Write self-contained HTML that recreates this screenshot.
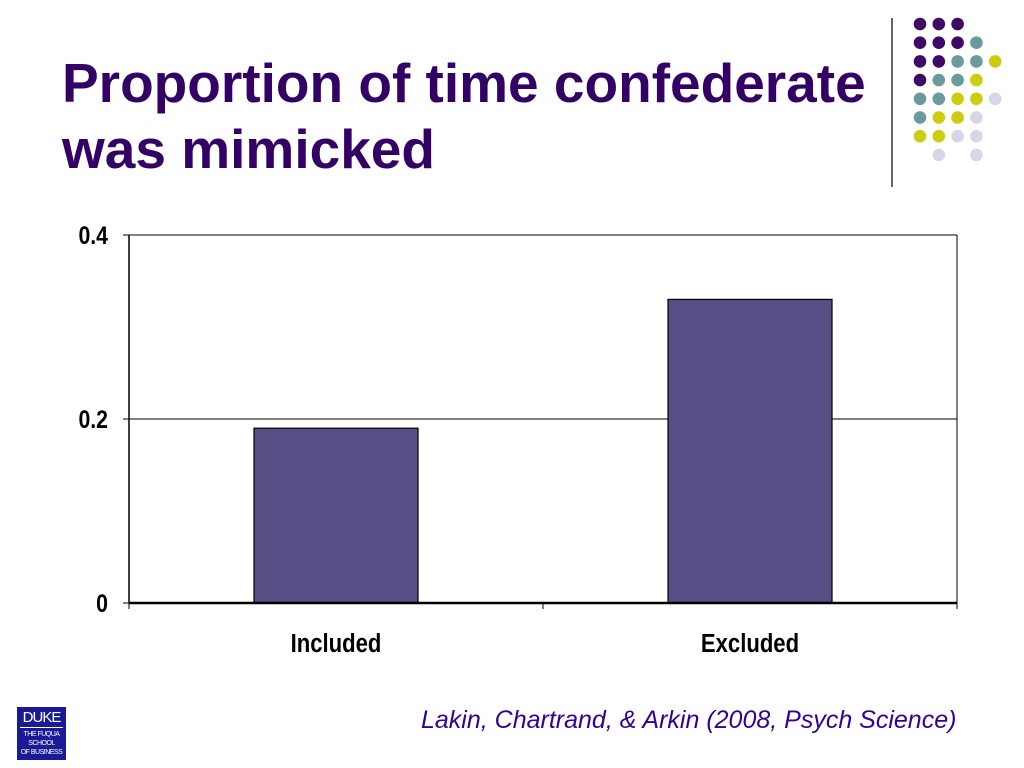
<!DOCTYPE html>
<html><head><meta charset="utf-8"><style>
body{margin:0;width:1024px;height:768px;background:#fff;position:relative;overflow:hidden;font-family:"Liberation Sans",sans-serif}
.title{position:absolute;left:62px;top:50px;font-size:55px;font-weight:bold;color:#330066;line-height:66px;white-space:nowrap}
.cite{position:absolute;left:421px;top:706px;font-size:25px;font-style:italic;color:#330099;white-space:nowrap}
.logo{position:absolute;left:17px;top:707px;width:49px;height:53px;background:#1a1a99;color:#fff;text-align:center;overflow:hidden}
</style></head><body>
<div class="title">Proportion of time confederate<br>was mimicked</div>
<svg width="1024" height="768" style="position:absolute;left:0;top:0">
<line x1="892" y1="18" x2="892" y2="187" stroke="#333" stroke-width="1.5"/>
<g id="dots"></g>
</svg>
<svg id="chart" width="1024" height="768" style="position:absolute;left:0;top:0"></svg>
<div class="logo"><div style="font-size:15px;line-height:18px;border-bottom:1px solid #fff;margin:2px 3px 0;letter-spacing:-1px">DUKE</div><div style="font-size:7px;line-height:9px;margin-top:2px;letter-spacing:-0.5px">THE FUQUA<br>SCHOOL<br>OF BUSINESS</div></div>
<div class="cite">Lakin, Chartrand, &amp; Arkin (2008, Psych Science)</div>
<script>
const categories=["Included","Excluded"];
const values=[0.19,0.33];
const ticks=[0,0.2,0.4];
const tickLabels=["0","0.2","0.4"];
const NS="http://www.w3.org/2000/svg";
function mk(p,t,a){const e=document.createElementNS(NS,t);for(const k in a)e.setAttribute(k,a[k]);p.appendChild(e);return e;}
const cols={P:"#3d0a66",T:"#6a9a9e",Y:"#cccc11",L:"#d6d6e8"};
const grid=["PPP","PPPT","PPTTY","PTTY","TTYYL","TYYL","YYLL","_L_L"];
const dg=document.getElementById("dots");
grid.forEach((r,i)=>[...r].forEach((c,j)=>{if(c!=="_"){const d=mk(dg,"circle",{cx:920+j*18.8,cy:24+i*18.7,r:6.3,fill:cols[c]});

}}));
const svg=document.getElementById("chart");
const x0=129,x1=957,yb=603,yt=235,vmax=0.4;
const y=v=>yb-(v/vmax)*(yb-yt);
const band=(x1-x0)/categories.length;
ticks.forEach((t,i)=>{
 if(t>0){const g=mk(svg,"line",{x1:x0,x2:x1,y1:y(t),y2:y(t),stroke:"#000","stroke-width":1});
 
 }
 mk(svg,"line",{x1:x0-6,x2:x0,y1:y(t),y2:y(t),stroke:"#000","stroke-width":1});
 const tx=mk(svg,"text",{x:x0-21,y:y(t)+9,"text-anchor":"end","font-size":25,"font-weight":"bold","font-family":"Liberation Sans, sans-serif",transform:"translate("+(x0-21)+",0) scale(0.85,1) translate("+(-(x0-21))+",0)"});
 tx.textContent=tickLabels[i];
 
 
});
mk(svg,"line",{x1:x1,x2:x1,y1:yt,y2:yb,stroke:"#000","stroke-width":1});
categories.forEach((c,i)=>{
 const cx=x0+band*(i+0.5);
 const b=mk(svg,"rect",{x:cx-82,y:y(values[i]),width:164,height:yb-y(values[i]),fill:"#554f85",stroke:"#000","stroke-width":1.2});
 
 
 const t=mk(svg,"text",{x:cx,y:652,"text-anchor":"middle","font-size":26,"font-weight":"bold","font-family":"Liberation Sans, sans-serif",transform:"translate("+cx+",0) scale(0.85,1) translate("+(-cx)+",0)"});
 t.textContent=c;
 
 
});
for(let i=0;i<=categories.length;i++){mk(svg,"line",{x1:x0+band*i,x2:x0+band*i,y1:yb,y2:yb+6,stroke:"#000","stroke-width":1});}
const ya=mk(svg,"line",{x1:x0,x2:x0,y1:yt,y2:yb,stroke:"#000","stroke-width":1.5});


const xa=mk(svg,"line",{x1:x0,x2:x1,y1:yb,y2:yb,stroke:"#000","stroke-width":2.5});


</script>
</body></html>
